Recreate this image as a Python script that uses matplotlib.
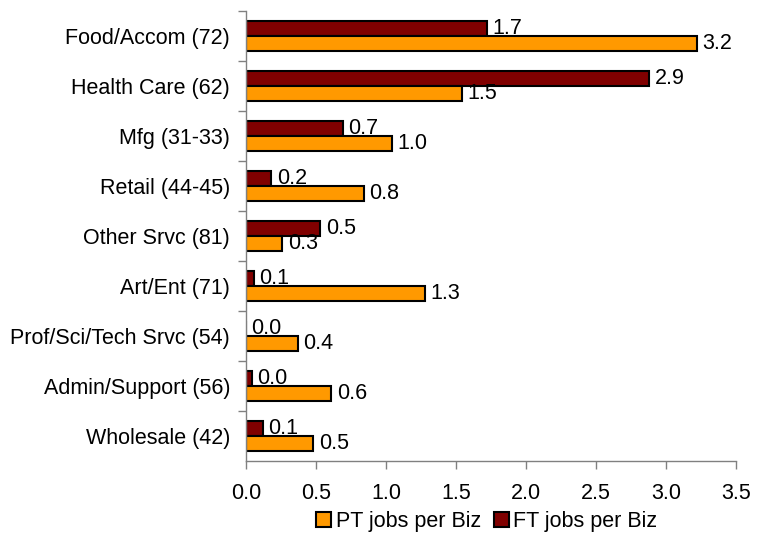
import numpy as np
import matplotlib
matplotlib.use('Agg')
import matplotlib.pyplot as plt
from matplotlib.ticker import MultipleLocator, FixedLocator, NullFormatter

plt.rcParams['font.family'] = ['Liberation Sans', 'DejaVu Sans']

# Industries (NAICS codes in brackets), top to bottom
industries = ['Food/Accom (72)', 'Health Care (62)', 'Mfg (31-33)', 'Retail (44-45)',
              'Other Srvc (81)', 'Art/Ent (71)', 'Prof/Sci/Tech Srvc (54)',
              'Admin/Support (56)', 'Wholesale (42)']
ft_jobs = [1.72, 2.88, 0.69, 0.18, 0.53, 0.055, 0.0, 0.04, 0.12]
pt_jobs = [3.22, 1.54, 1.04, 0.84, 0.26, 1.28, 0.37, 0.61, 0.48]

fig = plt.figure(figsize=(7.69, 5.35), dpi=100)
ax = fig.add_axes([0.3199, 0.1383, 0.957 - 0.3199, 0.9794 - 0.1383])

y = np.arange(len(industries))
h = 0.3
fs = 15.5

ft_bars = ax.barh(y - h / 2, ft_jobs, height=h, color='#800000', edgecolor='black',
                  linewidth=1.5, label='FT jobs per Biz')
pt_bars = ax.barh(y + h / 2, pt_jobs, height=h, color='#FF9900', edgecolor='black',
                  linewidth=1.5, label='PT jobs per Biz')

# value labels just past the bar ends
for bars, vals in ((ft_bars, ft_jobs), (pt_bars, pt_jobs)):
    for bar, v in zip(bars, vals):
        ax.annotate(f'{v:.1f}', (v, bar.get_y() + bar.get_height() / 2),
                    xytext=(4, 0), textcoords='offset points',
                    ha='left', va='center', fontsize=fs)

ax.set_xlim(0, 3.5)
ax.set_ylim(len(industries) - 0.5, -0.5)
ax.xaxis.set_major_locator(MultipleLocator(0.5))
ax.xaxis.set_major_formatter(plt.FuncFormatter(lambda v, p: f'{v:.1f}'))

# category names centred, tick marks between groups
ax.set_yticks(y)
ax.set_yticklabels(industries)
ax.yaxis.set_minor_locator(FixedLocator(np.arange(-0.5, len(industries) - 0.5, 1)))
ax.yaxis.set_minor_formatter(NullFormatter())
ax.tick_params(axis='y', which='major', length=0, pad=11.5, labelsize=fs)
ax.tick_params(axis='y', which='minor', length=6, color='#808080', width=1)
ax.tick_params(axis='x', length=6, color='#808080', width=1, pad=9.5, labelsize=fs)

for side in ('top', 'right'):
    ax.spines[side].set_visible(False)
for side in ('left', 'bottom'):
    ax.spines[side].set_color('#808080')
    ax.spines[side].set_linewidth(1)

fig.legend(handles=[pt_bars, ft_bars], labels=['PT jobs per Biz', 'FT jobs per Biz'],
           loc='center', bbox_to_anchor=(0.633, 0.0249), ncol=2, frameon=False,
           fontsize=fs, handlelength=0.7, handleheight=0.7, handletextpad=0.2,
           columnspacing=0.6, borderpad=0)

fig.savefig('out.png', dpi=100)
